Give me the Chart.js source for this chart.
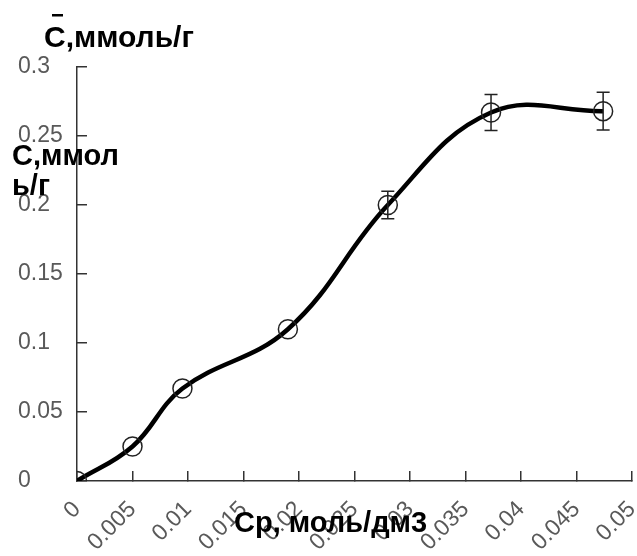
<!DOCTYPE html>
<html>
<head>
<meta charset="utf-8">
<script src="https://cdn.jsdelivr.net/npm/chart.js@4"></script>
<style>
  html, body { margin: 0; padding: 0; background: #fff; overflow: hidden; }
  #wrap { width: 637px; height: 556px; overflow: hidden; }
</style>
</head>
<body>
<div id="wrap"><canvas id="chart" width="643" height="556"></canvas></div>
<script>
// ---------- data ----------
const cp = [0, 0.005, 0.0095, 0.019, 0.028, 0.0373, 0.0474];
const cAds = [0, 0.025, 0.067, 0.11, 0.2, 0.267, 0.268];
const cErr = [0, 0, 0, 0, 0.01, 0.013, 0.0137];
const xTicks = [0, 0.005, 0.01, 0.015, 0.02, 0.025, 0.03, 0.035, 0.04, 0.045, 0.05];
const yTicks = [0, 0.05, 0.1, 0.15, 0.2, 0.25, 0.3];

const AXIS = "#333";
const TICK_TXT = "#595959";
const TXT_FONT = "Liberation Sans, Arial, sans-serif";

// error bars + free-standing labels
const extras = {
  id: "extras",
  afterDatasetsDraw(chart) {
    const { ctx, scales: { x, y } } = chart;
    ctx.save();
    ctx.strokeStyle = "#222";
    ctx.lineWidth = 1.5;
    cp.forEach((v, i) => {
      if (!cErr[i]) return;
      const px = x.getPixelForValue(v);
      const top = y.getPixelForValue(cAds[i] + cErr[i]);
      const bot = y.getPixelForValue(cAds[i] - cErr[i]);
      ctx.beginPath();
      ctx.moveTo(px, top); ctx.lineTo(px, bot);
      ctx.moveTo(px - 6.5, top); ctx.lineTo(px + 6.5, top);
      ctx.moveTo(px - 6.5, bot); ctx.lineTo(px + 6.5, bot);
      ctx.stroke();
    });
    ctx.restore();
  },
  afterDraw(chart) {
    const { ctx } = chart;
    ctx.save();
    ctx.fillStyle = "#000";
    ctx.textBaseline = "alphabetic";
    ctx.textAlign = "left";
    // top title with bar over C
    ctx.font = "bold 30px " + TXT_FONT;
    ctx.fillText("С,ммоль/г", 44, 47);
    ctx.fillRect(52, 14, 11, 2.5);
    // y label (wrapped)
    ctx.font = "bold 29px " + TXT_FONT;
    ctx.fillText("С,ммол", 12, 165);
    ctx.fillText("ь/г", 12, 195);
    // x title
    ctx.font = "bold 29px " + TXT_FONT;
    ctx.fillText("Ср, моль/дм3", 234, 532);
    ctx.restore();
  },
};

new Chart(document.getElementById("chart"), {
  type: "scatter",
  data: {
    datasets: [
      {
        data: cp.map((v, i) => ({ x: v, y: cAds[i] })),
        showLine: true,
        tension: 0.4,
        borderColor: "#000",
        borderWidth: 4.5,
        pointRadius: 9.5,
        pointBorderWidth: 1.5,
        pointBorderColor: "#222",
        pointBackgroundColor: "rgba(0,0,0,0)",
      },
    ],
  },
  options: {
    responsive: false,
    animation: false,
    layout: { padding: { left: 18, top: 67, right: 0, bottom: 0 } },
    plugins: { legend: { display: false }, tooltip: { enabled: false } },
    scales: {
      x: {
        type: "linear",
        min: 0,
        max: 0.05,
        afterBuildTicks: (s) => { s.ticks = xTicks.map((v) => ({ value: v })); },
        afterFit: (s) => { s.height = 75; s.paddingLeft = 0; s.paddingRight = 0; },
        border: { color: AXIS, width: 1.5 },
        grid: { drawOnChartArea: false, tickLength: -10, color: AXIS, lineWidth: 1.5 },
        ticks: {
          color: TICK_TXT,
          font: { family: TXT_FONT, size: 23 },
          minRotation: 45,
          maxRotation: 45,
          padding: 25,
          autoSkip: false,
          callback: (v) => String(+v.toFixed(3)),
        },
      },
      y: {
        min: 0,
        max: 0.3,
        afterBuildTicks: (s) => { s.ticks = yTicks.map((v) => ({ value: v })); },
        afterFit: (s) => { s.width = 59; },
        border: { color: AXIS, width: 1.5 },
        grid: { drawOnChartArea: false, tickLength: -10, color: AXIS, lineWidth: 1.5 },
        ticks: {
          color: TICK_TXT,
          font: { family: TXT_FONT, size: 23 },
          crossAlign: "far",
          autoSkip: false,
          callback: (v) => String(+v.toFixed(2)),
        },
      },
    },
  },
  plugins: [extras],
});
</script>
</body>
</html>
